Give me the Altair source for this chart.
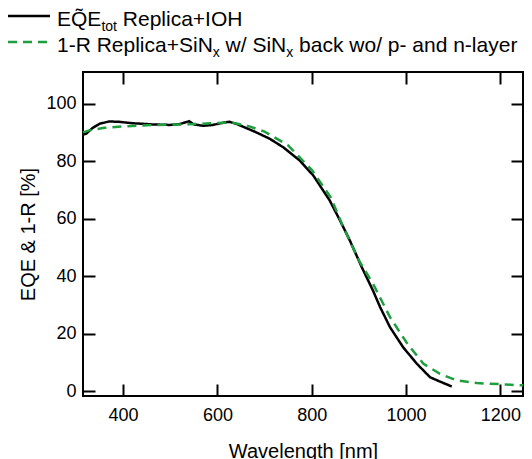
import altair as alt
import pandas as pd

# ---- data ----
eqe_nm = [315, 322, 335, 350, 370, 390, 420, 460, 500, 520, 540, 550, 570, 590, 610, 625,
          640, 680, 711, 740, 774, 803, 838, 860, 881, 906, 930, 945, 966, 994, 1023,
          1051, 1075, 1097]
eqe_val = [89.2, 89.6, 91.5, 93.0, 93.8, 93.7, 93.2, 92.8, 92.6, 92.9, 93.9, 92.8, 92.3,
           92.6, 93.3, 93.7, 93.0, 90.2, 87.8, 84.8, 80.3, 75.1, 66.4, 59.4, 52.4, 43.2,
           35.0, 29.3, 22.3, 15.3, 9.6, 4.9, 3.2, 1.7]

r_nm = [315, 330, 360, 400, 450, 500, 550, 600, 630, 660, 700, 750, 800, 840, 870, 900,
        930, 966, 1003, 1037, 1072, 1108, 1150, 1200, 1248]
r_val = [90.0, 90.8, 91.6, 92.1, 92.5, 92.7, 92.9, 93.3, 93.4, 92.5, 90.3, 85.5, 77.0,
         67.5, 56.0, 45.5, 37.4, 25.8, 16.5, 9.6, 6.1, 3.8, 2.9, 2.5, 2.1]

series_names = ["EQE_tot Replica+IOH",
                "1-R Replica+SiNx w/ SiNx back wo/ p- and n-layer"]
series_colors = ["#000000", "#1f9e3f"]
x_ticks = [400, 600, 800, 1000, 1200]
y_ticks = [0, 20, 40, 60, 80, 100]
x_domain = [315, 1248]
y_domain = [-1.6, 111]

# legend text pieces: (text, is_subscript, x offset from text start)
legend_row1 = [("EQ\u0303E", False, 0.0), ("tot", True, 44.4), ("Replica+IOH", False, 65.8)]
legend_row2 = [("1-R Replica+SiN", False, 0.0), ("x", True, 155.8), ("w/ SiN", False, 168.6),
               ("x", True, 229.3), ("back wo/ p- and n-layer", False, 242.1)]

FONT = "Liberation Sans"
LFS = 18   # tick labels
TFS = 20   # axis titles
GFS = 21   # legend
SFS = 14   # legend subscripts

df = pd.concat([
    pd.DataFrame({"nm": eqe_nm, "val": eqe_val, "series": series_names[0]}),
    pd.DataFrame({"nm": r_nm, "val": r_val, "series": series_names[1]}),
])

xs = alt.Scale(domain=x_domain, nice=False, zero=False)
ys = alt.Scale(domain=y_domain, nice=False, zero=False)
color = alt.Color("series:N", scale=alt.Scale(domain=series_names, range=series_colors), legend=None)
dash = alt.StrokeDash("series:N", scale=alt.Scale(domain=series_names, range=[[1, 0], [9, 6]]), legend=None)

main = alt.Chart(df).mark_line(strokeWidth=2.5).encode(
    x=alt.X("nm:Q", scale=xs, axis=alt.Axis(
        values=x_ticks, format="d", title="Wavelength [nm]", orient="bottom", offset=-12,
        tickSize=12, tickWidth=2, tickColor="black", domain=False, grid=False,
        labelPadding=10, labelFontSize=LFS, labelFont=FONT, labelColor="black",
        titleFont=FONT, titleFontSize=TFS, titleFontWeight="normal", titleColor="black",
        titlePadding=17)),
    y=alt.Y("val:Q", scale=ys, axis=alt.Axis(
        values=y_ticks, title="EQE & 1-R [%]", orient="left", offset=-12, tickSize=12,
        tickWidth=2, tickColor="black", domain=False, grid=False, labelPadding=7,
        labelFontSize=LFS, labelFont=FONT, labelColor="black", titleFont=FONT,
        titleFontSize=TFS, titleFontWeight="normal", titleColor="black", titlePadding=7)),
    color=color,
    strokeDash=dash,
    detail="series:N",
)

mirror = alt.Chart(df).mark_line(opacity=0).encode(
    x=alt.X("nm:Q", scale=xs, axis=alt.Axis(
        values=x_ticks, title=None, orient="top", offset=-12, tickSize=12, tickWidth=2,
        tickColor="black", domain=False, grid=False, labels=False)),
    y=alt.Y("val:Q", scale=ys, axis=alt.Axis(
        values=y_ticks, title=None, orient="right", offset=-12, tickSize=12, tickWidth=2,
        tickColor="black", domain=False, grid=False, labels=False)),
    detail="series:N",
)

# ---- manual legend (above the plot area) ----
leg_df = pd.DataFrame({"a": [0]})
TEXT_X = -26
layers = [main, mirror]
layers.append(alt.Chart(leg_df).mark_rule(color=series_colors[0], strokeWidth=2.5).encode(
    x=alt.value(-75), x2=alt.value(-33), y=alt.value(-56)))
layers.append(alt.Chart(leg_df).mark_rule(color=series_colors[1], strokeWidth=2.5,
                                          strokeDash=[9, 6]).encode(
    x=alt.value(-75), x2=alt.value(-30), y=alt.value(-30)))

for pieces, base_y in [(legend_row1, -46), (legend_row2, -20)]:
    for txt, sub, off in pieces:
        layers.append(alt.Chart(leg_df).mark_text(
            align="left", baseline="alphabetic", font=FONT,
            fontSize=SFS if sub else GFS, color="black", text=txt).encode(
            x=alt.value(TEXT_X + off), y=alt.value(base_y + (5 if sub else 0))))

chart = alt.layer(*layers).resolve_axis(
    x="independent", y="independent"
).properties(
    width=440, height=324,
    autosize=alt.AutoSizeParams(type="none"),
    padding={"left": 75, "top": 64, "right": 1, "bottom": 63},
).configure_view(stroke="black", strokeWidth=2)

chart.save("out.html", embed_options={"renderer": "svg", "actions": False})
